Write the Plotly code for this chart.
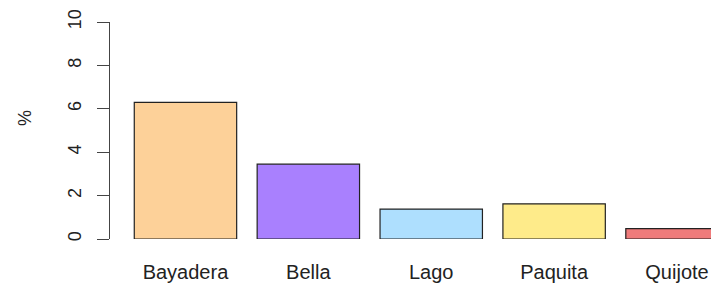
import plotly.graph_objects as go

categories = ["Bayadera", "Bella", "Lago", "Paquita", "Quijote"]
values = [6.3, 3.45, 1.38, 1.62, 0.48]
colors = ["#FDD199", "#A980FE", "#AEDFFE", "#FEEB8A", "#EF7B7B"]
y_ticks = [0, 2, 4, 6, 8, 10]

# R-style bar positions: width 1, space 0.2
positions = [0.7 + 1.2 * i for i in range(len(categories))]

fig = go.Figure(go.Bar(
    x=positions, y=values, width=1.0,
    marker=dict(color=colors, line=dict(color="#222222", width=1.2)),
    hoverinfo="skip",
))

font_family = "Liberation Sans, Arial, sans-serif"

W, H = 711, 285
L, R, T, B = 110, 0, 22, 46
plot_w = W - L - R
plot_h = H - T - B

fig.update_layout(
    width=W, height=H,
    margin=dict(l=L, r=R, t=T, b=B, pad=0, autoexpand=False),
    paper_bgcolor="white", plot_bgcolor="white",
    showlegend=False,
    font=dict(family=font_family, color="#222222"),
    xaxis=dict(
        range=[-0.037, 5.832],
        automargin=False,
        tickmode="array", tickvals=positions, ticktext=categories,
        showline=False, showgrid=False, zeroline=False,
        ticks="outside", ticklen=15, tickcolor="rgba(0,0,0,0)",
        tickfont=dict(size=20, family=font_family, color="#222222"),
    ),
    yaxis=dict(
        range=[0, 10],
        automargin=False,
        tickmode="array", tickvals=y_ticks,
        showline=True, linecolor="#444444", linewidth=1,
        showgrid=False, zeroline=False,
        ticks="outside", ticklen=12, tickcolor="#444444", tickwidth=1,
        tickangle=-90,
        ticklabelstandoff=9,
        tickfont=dict(size=18, family=font_family, color="#222222"),
    ),
    annotations=[dict(
        text="%", x=(25 - L) / plot_w, y=(H - B - 118) / plot_h,
        xref="paper", yref="paper", xanchor="center", yanchor="middle",
        showarrow=False, textangle=-90,
        font=dict(size=18, family=font_family, color="#222222"),
    )],
)

fig.write_html(
    "out.html",
    config={"displayModeBar": False, "staticPlot": True},
    post_script="document.body.style.margin='0';document.body.style.overflow='hidden';",
)
